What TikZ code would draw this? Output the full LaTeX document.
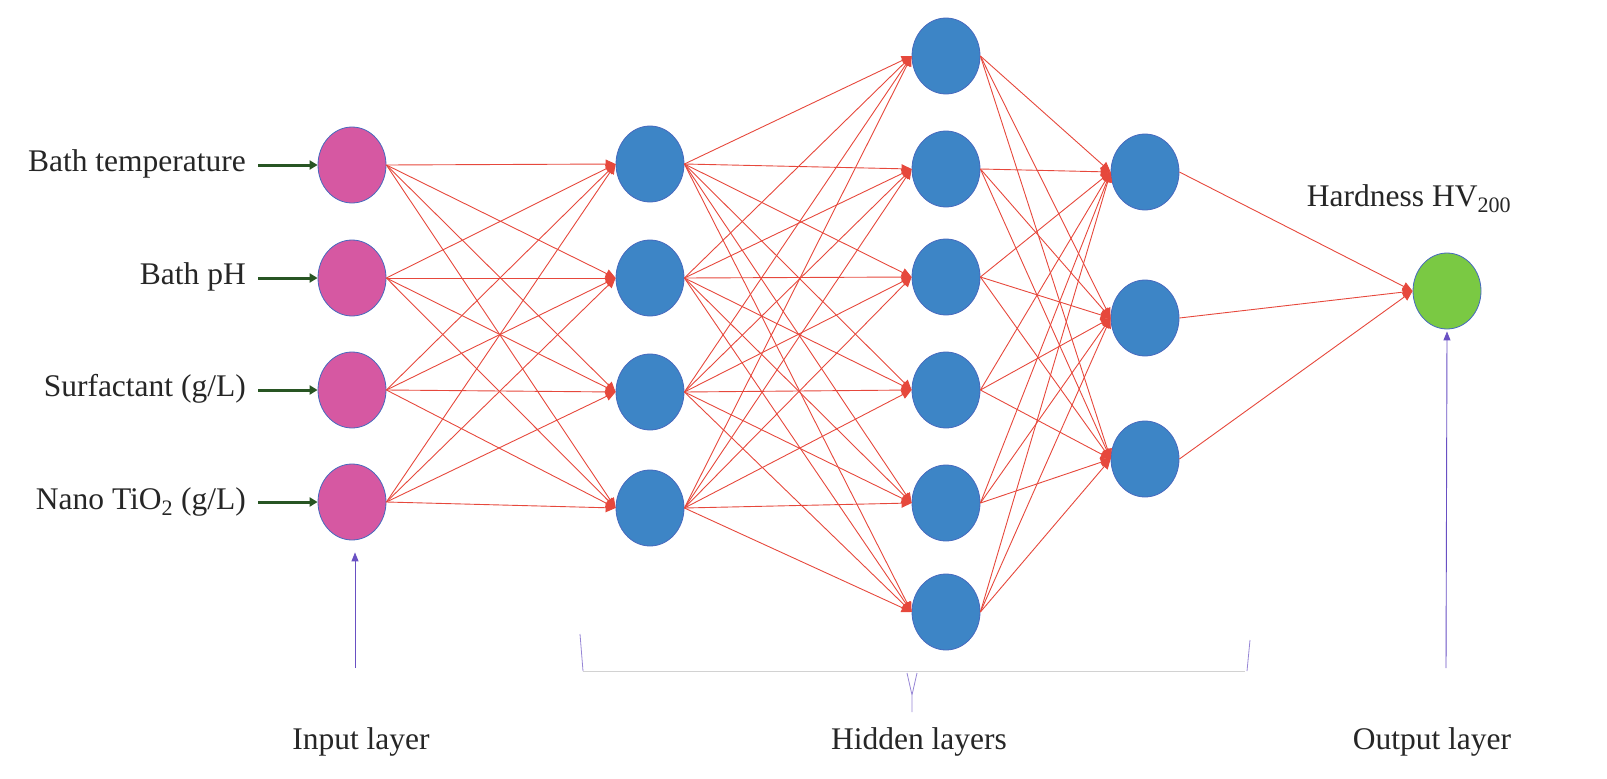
\documentclass[tikz,border=0pt]{standalone}
\usepackage{fontspec}
\setmainfont{Liberation Serif}
\usetikzlibrary{shapes.geometric,arrows.meta}
\definecolor{inpink}{RGB}{214,88,162}
\definecolor{hidblue}{RGB}{61,133,198}
\definecolor{outgreen}{RGB}{122,201,67}
\definecolor{rimblue}{RGB}{70,105,190}
\definecolor{linkred}{RGB}{230,72,60}
\definecolor{feedgreen}{RGB}{40,85,35}
\definecolor{markviolet}{RGB}{105,80,195}
\tikzset{
  neuron/.style={ellipse,draw=rimblue,line width=0.8pt,minimum width=68pt,minimum height=76pt,inner sep=0pt},
  link/.style={linkred,line width=0.9pt,-{Triangle[length=10pt,width=9pt]}},
  feed/.style={feedgreen,line width=3pt,-{Triangle[length=8pt,width=9pt]}},
  pointer/.style={markviolet,line width=0.9pt,-{Triangle[length=9pt,width=7pt]}},
  lbl/.style={font=\fontsize{31.5}{36}\selectfont,text=black!85,inner sep=0pt}
}
\begin{document}
\begin{tikzpicture}[x=1pt,y=-1pt]
  \useasboundingbox (0,0) rectangle (1607,779);
  % input layer
  \node[neuron,fill=inpink] (i1) at (352,165) {};
  \node[neuron,fill=inpink] (i2) at (352,278) {};
  \node[neuron,fill=inpink] (i3) at (352,390) {};
  \node[neuron,fill=inpink] (i4) at (352,502) {};
  % hidden layers
  \node[neuron,fill=hidblue] (ha1) at (650,164) {};
  \node[neuron,fill=hidblue] (ha2) at (650,278) {};
  \node[neuron,fill=hidblue] (ha3) at (650,392) {};
  \node[neuron,fill=hidblue] (ha4) at (650,508) {};
  \node[neuron,fill=hidblue] (hb1) at (946,56) {};
  \node[neuron,fill=hidblue] (hb2) at (946,169) {};
  \node[neuron,fill=hidblue] (hb3) at (946,277) {};
  \node[neuron,fill=hidblue] (hb4) at (946,390) {};
  \node[neuron,fill=hidblue] (hb5) at (946,503) {};
  \node[neuron,fill=hidblue] (hb6) at (946,612) {};
  \node[neuron,fill=hidblue] (hc1) at (1145,172) {};
  \node[neuron,fill=hidblue] (hc2) at (1145,318) {};
  \node[neuron,fill=hidblue] (hc3) at (1145,459) {};
  % output layer
  \node[neuron,fill=outgreen] (out) at (1447,291) {};
  % weights
  \foreach \a in {1,...,4}
    \foreach \b in {1,...,4}
      \draw[link] (i\a.east) -- (ha\b.west);
  \foreach \a in {1,...,4}
    \foreach \b in {1,...,6}
      \draw[link] (ha\a.east) -- (hb\b.west);
  \foreach \a in {1,...,6}
    \foreach \b in {1,...,3}
      \draw[link] (hb\a.east) -- (hc\b.west);
  \foreach \a in {1,...,3}
    \draw[link] (hc\a.east) -- (out.west);
  % inputs
  \node[lbl,anchor=east] (t1) at (246,164) {Bath temperature};
  \node[lbl,anchor=east] (t2) at (246,277) {Bath pH};
  \node[lbl,anchor=east] (t3) at (246,389) {Surfactant (g/L)};
  \node[lbl,anchor=east] (t4) at (246,502) {Nano TiO\textsubscript{2} (g/L)};
  \draw[feed] ([xshift=12pt]t1.east |- i1.west) -- (i1.west);
  \draw[feed] ([xshift=12pt]t2.east |- i2.west) -- (i2.west);
  \draw[feed] ([xshift=12pt]t3.east |- i3.west) -- (i3.west);
  \draw[feed] ([xshift=12pt]t4.east |- i4.west) -- (i4.west);
  \node[lbl] (hv) at (1409,199) {Hardness HV\textsubscript{200}};
  % layer captions
  \node[lbl] (inlayer) at (361,742) {Input layer};
  \node[lbl] (hidlayer) at (919,742) {Hidden layers};
  \node[lbl] (outlayer) at (1432,742) {Output layer};
  \coordinate (inbase) at (355,668);
  \coordinate (outbase) at (1446,668);
  \draw[pointer] (inbase) -- ([xshift=3pt,yshift=-12pt]i4.south);
  \draw[pointer] (outbase) -- ([yshift=-2pt]out.south);
  % brace under hidden layers
  \draw[gray!35,line width=1pt] (583,671) -- (1245,671);
  \draw[markviolet!70,line width=0.8pt] (580,634) -- (583,671);
  \draw[markviolet!70,line width=0.8pt] (1250,640) -- (1247,671);
  \draw[markviolet!70,line width=0.8pt] (907,673) -- (912,695) -- (917,673) (912,695) -- (912,712);
\end{tikzpicture}
\end{document}
